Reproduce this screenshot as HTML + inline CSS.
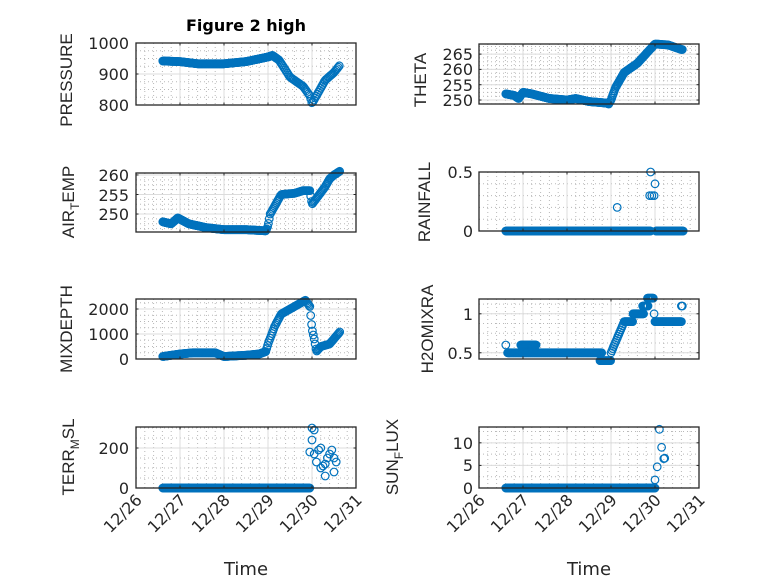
<!DOCTYPE html>
<html><head><meta charset="utf-8"><style>
html,body{margin:0;padding:0;background:#fff}
svg{display:block}
text{font-family:"DejaVu Sans","Liberation Sans",sans-serif;fill:#262626}
.yl{font-family:"Liberation Sans","DejaVu Sans",sans-serif}
</style></head><body>
<svg id="s" width="778" height="583" viewBox="0 0 778 583" xmlns="http://www.w3.org/2000/svg">
<rect width="778" height="583" fill="#fff"/>
<g id="plots"></g>
<text x="246" y="31" font-size="16" font-weight="bold" text-anchor="middle" style="fill:#000">Figure 2 high</text>
<g font-size="16" text-anchor="end">
<text x="129" y="49">1000</text><text x="129" y="80">900</text><text x="129" y="111">800</text>
<text x="473" y="60">265</text><text x="473" y="75">260</text><text x="473" y="91">255</text><text x="473" y="106">250</text>
<text x="129" y="181">260</text><text x="129" y="201">255</text><text x="129" y="220">250</text>
<text x="473" y="178">0.5</text><text x="473" y="237">0</text>
<text x="129" y="315">2000</text><text x="129" y="340">1000</text><text x="129" y="365">0</text>
<text x="473" y="320">1</text><text x="473" y="359">0.5</text>
<text x="129" y="454">200</text><text x="129" y="494">0</text>
<text x="473" y="449">10</text><text x="473" y="471">5</text><text x="473" y="494">0</text>
</g>
<g font-size="17" text-anchor="middle" class="yl">
<text class="yl" transform="translate(72,80) rotate(-90)">PRESSURE</text>
<text class="yl" transform="translate(426,80) rotate(-90)">THETA</text>
<text class="yl" transform="translate(74,202) rotate(-90)">AIR<tspan font-size="12" dy="5">T</tspan><tspan dy="-5">EMP</tspan></text>
<text class="yl" transform="translate(430,202) rotate(-90)">RAINFALL</text>
<text class="yl" transform="translate(72,329) rotate(-90)">MIXDEPTH</text>
<text class="yl" transform="translate(433,329) rotate(-90)">H2OMIXRA</text>
<text class="yl" transform="translate(74,457) rotate(-90)">TERR<tspan font-size="12" dy="5">M</tspan><tspan dy="-5">SL</tspan></text>
<text class="yl" transform="translate(398,457) rotate(-90)">SUN<tspan font-size="12" dy="5">F</tspan><tspan dy="-5">LUX</tspan></text>
</g>
<g font-size="18" text-anchor="middle">
<text x="246" y="575">Time</text>
<text x="589" y="575">Time</text>
</g>
<g font-size="16" text-anchor="end">
<text transform="translate(143,501) rotate(-45)">12/26</text>
<text transform="translate(187,501) rotate(-45)">12/27</text>
<text transform="translate(231,501) rotate(-45)">12/28</text>
<text transform="translate(275,501) rotate(-45)">12/29</text>
<text transform="translate(319,501) rotate(-45)">12/30</text>
<text transform="translate(363,501) rotate(-45)">12/31</text>
<text transform="translate(486,501) rotate(-45)">12/26</text>
<text transform="translate(530,501) rotate(-45)">12/27</text>
<text transform="translate(574,501) rotate(-45)">12/28</text>
<text transform="translate(618,501) rotate(-45)">12/29</text>
<text transform="translate(662,501) rotate(-45)">12/30</text>
<text transform="translate(706,501) rotate(-45)">12/31</text>
</g>
</svg>
<script>
var NS="http://www.w3.org/2000/svg",G=document.getElementById("plots");
function el(t,a){var e=document.createElementNS(NS,t);for(var k in a)e.setAttribute(k,a[k]);G.appendChild(e);return e;}
function lin(pts,t){if(t<=pts[0][0])return pts[0][1];for(var i=1;i<pts.length;i++){if(t<=pts[i][0]){var a=pts[i-1],b=pts[i];return a[1]+(b[1]-a[1])*(t-a[0])/(b[0]-a[0]);}}return pts[pts.length-1][1];}
function panel(o){
 var L=o.x0,R=o.x0+220,T=o.y0,B=o.y1,H=B-T;
 function Y(v){return B-(v-o.lo)/(o.hi-o.lo)*H;}
 function X(d){return L+d*44;}
 for(var d=0;d<5;d++)for(var m=1;m<5;m++){var x=X(d+m/5);el("line",{x1:x,x2:x,y1:T,y2:B,stroke:"#b8b8b8","stroke-width":1,"stroke-dasharray":"1 3"});}
 for(var v=o.lo-(o.lo%o.mn);v<=o.hi;v+=o.mn){if(v<o.lo)continue;var y=Y(v);el("line",{x1:L,x2:R,y1:y,y2:y,stroke:"#b8b8b8","stroke-width":1,"stroke-dasharray":"1 3"});}
 for(var d=1;d<5;d++){var x=X(d);el("line",{x1:x,x2:x,y1:T,y2:B,stroke:"#dcdcdc","stroke-width":1});}
 o.ticks.forEach(function(v){var y=Y(v);el("line",{x1:L,x2:R,y1:y,y2:y,stroke:"#dcdcdc","stroke-width":1});});
 var g=document.createElementNS(NS,"g");g.setAttribute("fill","none");g.setAttribute("stroke","#0072BD");g.setAttribute("stroke-width","1.2");G.appendChild(g);
 o.pts.forEach(function(p){var c=document.createElementNS(NS,"circle");c.setAttribute("cx",X(p[0]).toFixed(1));c.setAttribute("cy",Y(p[1]).toFixed(1));c.setAttribute("r","3.8");g.appendChild(c);});
 el("rect",{x:L,y:T,width:220,height:H,fill:"none",stroke:"#262626","stroke-width":1.3});
 for(var d=1;d<5;d++){var x=X(d);el("line",{x1:x,x2:x,y1:T,y2:T+2.5,stroke:"#262626"});el("line",{x1:x,x2:x,y1:B,y2:B-2.5,stroke:"#262626"});}
 o.ticks.forEach(function(v){var y=Y(v);el("line",{x1:L,x2:L+2.5,y1:y,y2:y,stroke:"#262626"});el("line",{x1:R,x2:R-2.5,y1:y,y2:y,stroke:"#262626"});});
}
function curve(k,a,b,st){var r=[];for(var t=a;t<=b+1e-9;t+=st)r.push([t,lin(k,t)]);return r;}
var kp=[[0.61,942],[1.0,940],[1.4,933],[2.0,933],[2.5,940],[3.0,955],[3.1,960],[3.25,945],[3.5,890],[3.8,860],[3.95,830],[4.0,805],[4.1,830],[4.3,880],[4.5,905],[4.64,930]];
panel({x0:136,y0:43,y1:105,lo:800,hi:1000,mn:25,ticks:[800,900,1000],pts:curve(kp,0.61,3.2,0.01).concat(curve(kp,3.22,4.64,0.025))});
var kt=[[0.61,252],[0.8,251.5],[0.9,250.5],[1.0,252.5],[1.2,252],[1.6,250.5],[2.0,250],[2.2,250.5],[2.5,249.5],[2.9,249],[2.95,248.7],[3.0,250],[3.1,254],[3.3,259],[3.6,262],[4.0,268.3],[4.3,268],[4.6,266.5]];
panel({x0:479,y0:44,y1:104,lo:248.7,hi:268.3,mn:1.25,ticks:[250,255,260,265],pts:curve(kt,0.61,2.95,0.01).concat(curve(kt,2.97,4.62,0.015))});
var ka=[[0.61,248],[0.8,247.5],[0.95,249],[1.2,247.5],[1.6,246.5],[2.0,246],[2.5,246],[2.95,245.7],[3.0,247],[3.05,250],[3.2,253],[3.3,255],[3.6,255.3],[3.8,256],[3.95,256],[4.0,252.5],[4.1,254],[4.3,257],[4.4,259],[4.5,260],[4.64,261]];
panel({x0:136,y0:173,y1:232,lo:245.4,hi:260.5,mn:1.25,ticks:[250,255,260],pts:curve(ka,0.61,2.97,0.01).concat(curve(ka,2.99,4.64,0.02))});
var rp=curve([[0,0],[5,0]],0.61,3.9,0.01).concat(curve([[0,0],[5,0]],4.02,4.64,0.01)).concat([[3.14,0.2],[3.88,0.3],[3.93,0.3],[3.9,0.5],[4.0,0.4],[3.98,0.3]]);
panel({x0:479,y0:172,y1:231,lo:0,hi:0.5,mn:0.1,ticks:[0,0.5],pts:rp});
var km=[[0.61,100],[1.0,200],[1.3,250],[1.8,250],[2.0,100],[2.5,150],[2.8,200],[2.95,300],[3.0,600],[3.15,1300],[3.3,1800],[3.6,2100],[3.85,2350],[3.95,2100],[4.0,1200],[4.05,800],[4.1,300],[4.2,500],[4.4,600],[4.64,1100]];
panel({x0:136,y0:299,y1:359,lo:0,hi:2400,mn:250,ticks:[0,1000,2000],pts:curve(km,0.61,2.95,0.01).concat(curve(km,2.97,4.64,0.02))});
var hp=[[0.61,0.6]];
function run(a,b,v){for(var t=a;t<=b;t+=0.012)hp.push([t,v]);}
run(0.65,1.0,0.5);run(0.95,1.3,0.6);run(1.0,2.8,0.5);run(2.75,3.0,0.4);
for(var t=3.0;t<=3.3;t+=0.02)hp.push([t,0.5+(t-3.0)/0.3*0.4]);
run(3.3,3.5,0.9);run(3.5,3.75,1.0);run(3.72,3.85,1.1);run(3.83,3.97,1.2);hp.push([3.98,1.0]);run(4.0,4.6,0.9);hp.push([4.62,1.1]);hp.push([4.6,1.1]);
panel({x0:479,y0:299,y1:359,lo:0.42,hi:1.19,mn:0.125,ticks:[0.5,1],pts:hp});
var tp=curve([[0,0],[5,0]],0.61,3.95,0.01).concat([[3.95,180],[4.0,300],[4.05,290],[4.0,240],[4.05,170],[4.1,130],[4.15,190],[4.2,200],[4.25,110],[4.3,60],[4.35,150],[4.4,170],[4.45,190],[4.5,150],[4.55,130],[4.5,80],[4.2,100],[4.3,120]]);
panel({x0:136,y0:427,y1:488,lo:0,hi:305,mn:50,ticks:[0,200],pts:tp});
var sp=curve([[0,0],[5,0]],0.61,4.0,0.01).concat([[4.0,1.8],[4.05,4.7],[4.1,13],[4.15,9],[4.2,6.5],[4.22,6.6]]);
panel({x0:479,y0:427,y1:488,lo:0,hi:13.5,mn:2.5,ticks:[0,5,10],pts:sp});
</script>
</body></html>
